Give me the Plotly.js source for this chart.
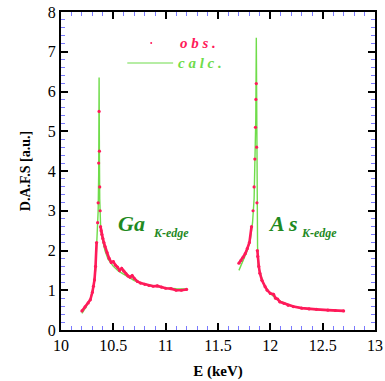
<!DOCTYPE html>
<html>
<head>
<meta charset="utf-8">
<script src="https://cdn.plot.ly/plotly-3.0.1.min.js"></script>
<style>html,body{margin:0;padding:0;background:#fff;}#chart{width:385px;height:381px;}</style>
</head>
<body>
<div id="chart"></div>
<script>
// Ga K-edge, observed
const gaE = [10.20,10.23,10.26,10.28,10.30,10.31,10.32,10.33,10.34,10.35,10.355,10.36,10.364,10.367,10.37,10.374,10.378,10.383,10.39,10.40,10.41,10.42,10.44,10.46,10.48,10.50,10.52,10.54,10.56,10.58,10.60,10.62,10.64,10.66,10.68,10.70,10.73,10.76,10.80,10.84,10.88,10.92,10.96,11.00,11.05,11.10,11.15,11.20];
const gaObs = [0.48,0.58,0.68,0.76,0.95,1.1,1.26,1.6,2.2,2.7,3.2,4.2,5.5,4.5,3.6,3.0,2.6,2.5,2.4,2.3,2.2,2.1,1.95,1.8,1.7,1.72,1.63,1.58,1.5,1.55,1.48,1.42,1.36,1.33,1.37,1.3,1.22,1.18,1.15,1.12,1.1,1.11,1.08,1.05,1.04,1.0,1.0,1.02];
// Ga K-edge, calculated
const gaCalcE = [10.20,10.24,10.28,10.31,10.33,10.345,10.355,10.36,10.364,10.367,10.37,10.374,10.38,10.39,10.40,10.42,10.45,10.50,10.55,10.60,10.65,10.70,10.80,10.90,11.00,11.10,11.20];
const gaCalc = [0.42,0.58,0.78,1.1,1.5,2.2,3.0,3.9,6.35,4.4,3.3,2.8,2.5,2.35,2.25,2.0,1.78,1.6,1.48,1.4,1.3,1.24,1.15,1.1,1.06,1.04,1.03];
// As K-edge, observed
const asE = [11.70,11.72,11.74,11.76,11.78,11.80,11.82,11.835,11.845,11.852,11.858,11.862,11.866,11.869,11.872,11.876,11.88,11.89,11.90,11.92,11.95,11.97,12.00,12.03,12.05,12.07,12.09,12.13,12.17,12.22,12.30,12.37,12.44,12.55,12.62,12.70];
const asObs = [1.68,1.75,1.83,1.92,2.05,2.2,2.6,3.0,3.6,4.3,5.1,5.8,6.2,4.6,3.2,2.0,1.85,1.6,1.43,1.25,1.09,1.0,0.92,0.9,0.8,0.78,0.71,0.67,0.62,0.59,0.55,0.53,0.52,0.5,0.49,0.48];
// As K-edge, calculated
const asCalcE = [11.70,11.74,11.78,11.81,11.83,11.845,11.855,11.861,11.866,11.869,11.873,11.878,11.885,11.90,11.93,11.96,12.00,12.05,12.10,12.20,12.30,12.40,12.50,12.60,12.70];
const asCalc = [1.5,1.75,2.0,2.3,2.7,3.3,4.2,5.3,7.35,4.5,2.8,2.1,1.6,1.45,1.2,1.05,0.92,0.8,0.72,0.6,0.55,0.52,0.5,0.49,0.48];

const xTicks = [10,10.5,11,11.5,12,12.5,13];
const xTickText = ['10','10.5','11','11.5','12','12.5','13'];
const yTicks = [0,1,2,3,4,5,6,7,8];

const RED = '#ff1a5a';
const GREEN = '#6fdc4a';
const DKGREEN = '#1f8a1f';
const SERIF = 'Liberation Serif';
const LINE_CUT = 2.65; // above this the steep edge is drawn as separate dots only

function calcTrace(x, y) {
  return {x: x, y: y, type: 'scatter', mode: 'lines', line: {color: GREEN, width: 1.4}, showlegend: false, hoverinfo: 'skip'};
}
function obsLine(x, y) {
  return {x: x, y: y.map(v => v > LINE_CUT ? null : v), type: 'scatter', mode: 'lines', connectgaps: false,
          line: {color: RED, width: 2.6}, showlegend: false, hoverinfo: 'skip'};
}
function obsDots(x, y) {
  return {x: x, y: y, type: 'scatter', mode: 'markers', marker: {color: RED, size: 3.2}, showlegend: false, hoverinfo: 'skip'};
}

const data = [
  calcTrace(gaCalcE, gaCalc),
  calcTrace(asCalcE, asCalc),
  obsLine(gaE, gaObs),
  obsLine(asE, asObs),
  obsDots(gaE, gaObs),
  obsDots(asE, asObs)
];

function axisCommon() {
  return {
    showline: true, linecolor: '#000', linewidth: 2, mirror: 'allticks',
    ticks: 'inside', ticklen: 7, tickwidth: 2, tickcolor: '#000',
    showgrid: false, zeroline: false,
    tickfont: {family: SERIF, size: 16, color: '#000'}
  };
}

const layout = {
  width: 385, height: 381,
  margin: {l: 60.5, r: 9.5, t: 12, b: 51},
  paper_bgcolor: '#fff', plot_bgcolor: '#fff',
  font: {family: SERIF},
  xaxis: Object.assign(axisCommon(), {
    range: [10, 13], tickvals: xTicks, ticktext: xTickText,
    minor: {dtick: 0.1, ticklen: 4, tickwidth: 1, tickcolor: '#7a7aff', ticks: 'inside', showgrid: false},
    title: {text: '<b>E (keV)</b>', font: {family: SERIF, size: 15, color: '#000'}, standoff: 12}
  }),
  yaxis: Object.assign(axisCommon(), {
    range: [0, 8], tickvals: yTicks,
    minor: {dtick: 0.2, ticklen: 4, tickwidth: 1, tickcolor: '#7a7aff', ticks: 'inside', showgrid: false},
    title: {text: '<b>D.A.F.S [a.u.]</b>', font: {family: SERIF, size: 14, color: '#000'}, standoff: 14}
  }),
  shapes: [
    {type: 'line', xref: 'paper', yref: 'paper', x0: (127-60.5)/315, x1: (173-60.5)/315,
     y0: (330-63)/318, y1: (330-63)/318, line: {color: GREEN, width: 1.2}},
    {type: 'circle', xref: 'paper', yref: 'paper', x0: (150-60.5)/315, x1: (152-60.5)/315,
     y0: (330-44)/318, y1: (330-42)/318, fillcolor: RED, line: {width: 0}}
  ],
  annotations: [
    {xref: 'paper', yref: 'paper', x: (198-60.5)/315, y: (330-43)/318, text: '<b><i>o b s .</i></b>', showarrow: false,
     font: {family: SERIF, size: 15, color: RED}, xanchor: 'center', yanchor: 'middle'},
    {xref: 'paper', yref: 'paper', x: (200-60.5)/315, y: (330-63)/318, text: '<b><i>c a l c .</i></b>', showarrow: false,
     font: {family: SERIF, size: 15, color: GREEN}, xanchor: 'center', yanchor: 'middle'},
    {xref: 'paper', yref: 'paper', x: (131.5-60.5)/315, y: (330-223)/318, text: '<b><i>Ga</i></b>', showarrow: false,
     font: {family: SERIF, size: 22, color: DKGREEN}, xanchor: 'center', yanchor: 'middle'},
    {xref: 'paper', yref: 'paper', x: (171-60.5)/315, y: (330-233)/318, text: '<b><i>K-edge</i></b>', showarrow: false,
     font: {family: SERIF, size: 12, color: DKGREEN}, xanchor: 'center', yanchor: 'middle'},
    {xref: 'paper', yref: 'paper', x: (283-60.5)/315, y: (330-223)/318, text: '<b><i>A s</i></b>', showarrow: false,
     font: {family: SERIF, size: 22, color: DKGREEN}, xanchor: 'center', yanchor: 'middle'},
    {xref: 'paper', yref: 'paper', x: (319-60.5)/315, y: (330-233)/318, text: '<b><i>K-edge</i></b>', showarrow: false,
     font: {family: SERIF, size: 12, color: DKGREEN}, xanchor: 'center', yanchor: 'middle'}
  ]
};

Plotly.newPlot('chart', data, layout, {displayModeBar: false, staticPlot: true});
</script>
</body>
</html>
